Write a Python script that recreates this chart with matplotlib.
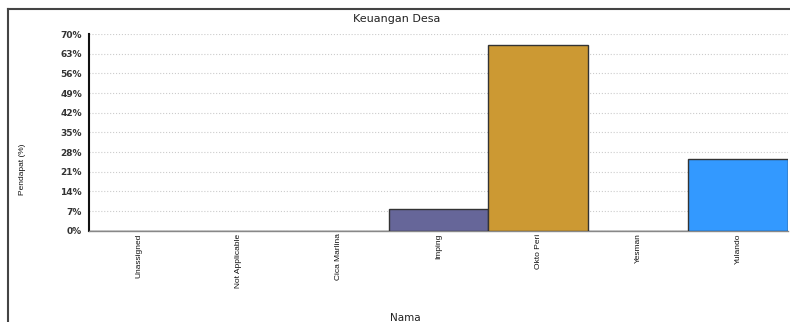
import matplotlib
matplotlib.use('Agg')
import matplotlib.pyplot as plt
from matplotlib.lines import Line2D

names = ['Unassigned', 'Not Applicable', 'Cica Marlina', 'Imping', 'Okto Peri', 'Yesman', 'Yulando']
values = [0, 0, 0, 7.8, 66.2, 0, 25.6]
colors = ['#666699', '#666699', '#666699', '#666699', '#CC9933', '#3399FF', '#3399FF']
yticks = [0, 7, 14, 21, 28, 35, 42, 49, 56, 63, 70]

narrow = ['Liberation Sans Narrow', 'Liberation Sans', 'DejaVu Sans']

fig = plt.figure(figsize=(7.9, 3.22), dpi=100)
ax = fig.add_axes([89 / 790, 1 - 230.7 / 322, 699 / 790, 196.7 / 322])

x = range(len(names))
ax.bar(x, values, width=1.0, color=colors, edgecolor='#333333', linewidth=1.0, zorder=3)

ax.set_xlim(-0.5, len(names) - 0.5)
ax.set_ylim(0, 70)
ax.set_yticks(yticks)
ax.set_yticklabels([f'{t}%' for t in yticks], fontsize=6.5, fontweight='bold',
                   color='#333333', family='DejaVu Sans')
ax.set_xticks(list(x))
ax.set_xticklabels(names, rotation=90, fontsize=6, family=narrow, va='top', color='#111111')
ax.tick_params(axis='both', length=0)
ax.tick_params(axis='x', pad=2)
ax.tick_params(axis='y', pad=5)

ax.grid(axis='y', color='#cccccc', linestyle=':', linewidth=0.8, zorder=0)
for s in ['top', 'right']:
    ax.spines[s].set_visible(False)
ax.spines['left'].set_color('#111111')
ax.spines['left'].set_linewidth(1.5)
ax.spines['bottom'].set_color('#888888')
ax.spines['bottom'].set_linewidth(1.0)

fig.text(397 / 790, 1 - 19 / 322, 'Keuangan Desa', ha='center', va='center',
         fontsize=8, color='#222222')
fig.text(23 / 790, 1 - 169 / 322, 'Pendapat (%)', rotation=90, ha='center', va='center',
         fontsize=6, family=narrow, color='#111111')
fig.text(405 / 790, 1 - 318 / 322, 'Nama', ha='center', va='center',
         fontsize=7.5, color='#222222')

# outer frame (top and left only, the rest is cropped)
fig.add_artist(Line2D([8 / 790, 1], [1 - 9 / 322, 1 - 9 / 322], color='#444444', linewidth=1.5))
fig.add_artist(Line2D([8 / 790, 8 / 790], [0, 1 - 9 / 322], color='#444444', linewidth=1.5))

fig.savefig('out.png', dpi=100)
